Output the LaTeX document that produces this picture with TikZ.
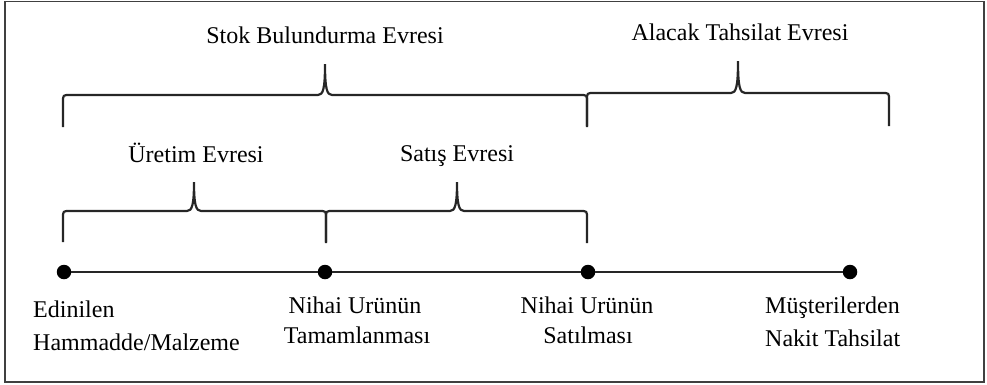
\documentclass[tikz,border=0pt]{standalone}
\usepackage{fontspec}
\setmainfont{Liberation Serif}
\begin{document}
\begin{tikzpicture}[x=1pt,y=-1pt,
  bracket/.style={line width=2.2pt, color=black!85},
  timeline/.style={line width=2.2pt, color=black!85},
  event/.style={circle, fill=black, inner sep=0pt, minimum size=14.5pt},
  lbl/.style={anchor=base, inner sep=0pt, font=\fontsize{24}{29}\selectfont, text=black},
  frame/.style={line width=1.8pt, color=black!75}]
% canvas and outer frame
\useasboundingbox (0,0) rectangle (987,384);
\draw[frame] (5,1.5) rectangle (984,382);

% curly bracket: #1 left x, #2 right x, #3 tip x, #4 bar y, #5 tip y, #6 foot y
\newcommand{\curlybrace}[6]{%
  \draw[bracket] (#1,#6) -- (#1,#4+7) .. controls (#1,#4) .. (#1+7,#4)
    -- (#3-7,#4) .. controls (#3-2,#4) and (#3,#4-6) .. (#3,#5)
    .. controls (#3,#4-6) and (#3+2,#4) .. (#3+7,#4)
    -- (#2-7,#4) .. controls (#2,#4) .. (#2,#4+7) -- (#2,#6);}

% upper phases
\curlybrace{63}{587}{325}{95}{64}{127}
\curlybrace{587}{889}{738}{93}{61}{126}
\node[lbl] (stok) at (325,43) {Stok Bulundurma Evresi};
\node[lbl] (alacak) at (740,40) {Alacak Tahsilat Evresi};

% lower phases
\curlybrace{63}{326}{194}{211}{182}{242}
\curlybrace{326}{587}{457}{211}{182}{243}
\node[lbl] (uretim) at (196,162) {Üretim Evresi};
\node[lbl] (satis) at (457,161) {Satış Evresi};

% time line with events
\node[event] (e1) at (64,272) {};
\node[event] (e2) at (325,272) {};
\node[event] (e3) at (588,272) {};
\node[event] (e4) at (850,272) {};
\draw[timeline] (e1) -- (e2) -- (e3) -- (e4);

% event captions
\node[lbl, anchor=base west] (c1a) at (33,317) {Edinilen};
\node[lbl, anchor=base west] (c1b) at (33,350) {Hammadde/Malzeme};
\node[lbl] (c2a) at (355,313) {Nihai Urünün};
\node[lbl] (c2b) at (357,343) {Tamamlanması};
\node[lbl] (c3a) at (587,313) {Nihai Urünün};
\node[lbl] (c3b) at (588,343) {Satılması};
\node[lbl, anchor=base west] (c4a) at (765,313) {Müşterilerden};
\node[lbl, anchor=base west] (c4b) at (765,346) {Nakit Tahsilat};
\end{tikzpicture}
\end{document}
